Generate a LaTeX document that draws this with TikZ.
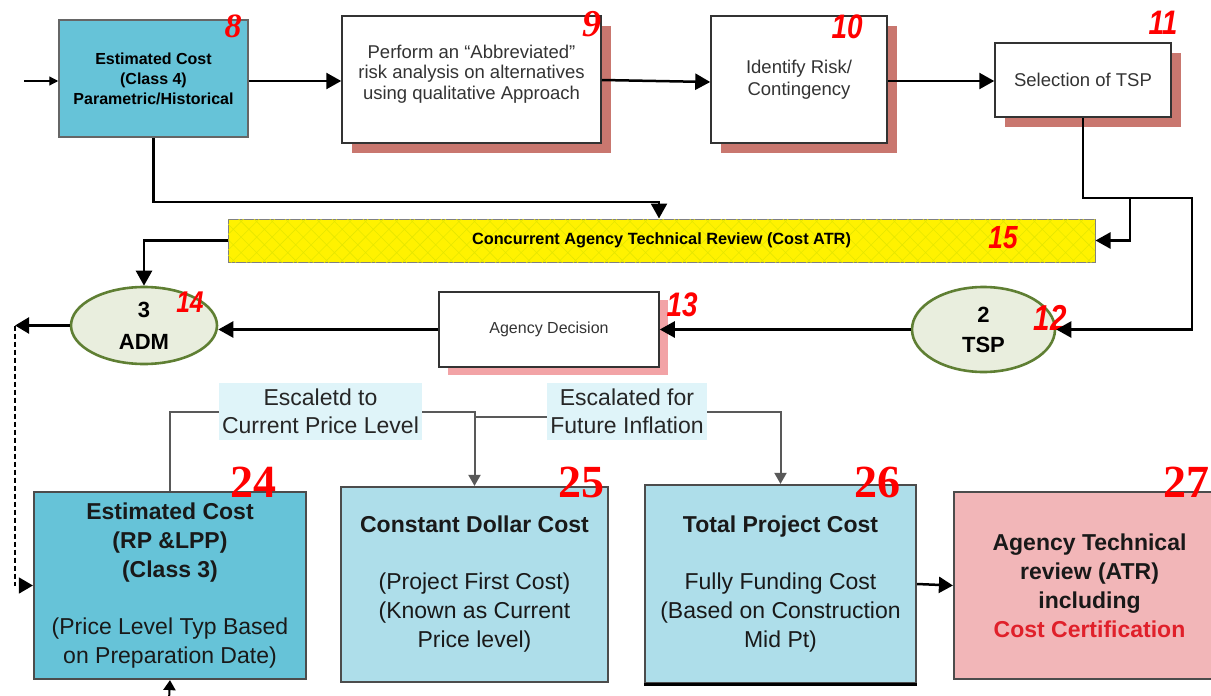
\documentclass[tikz,border=0pt]{standalone}
\usepackage{fontspec}
\setmainfont{Liberation Sans}
\newfontfamily\numserif{Liberation Serif}
\newfontfamily\numsans{Liberation Sans}[FakeStretch=0.82]
\usetikzlibrary{arrows.meta,shapes.geometric,shadows,patterns.meta,calc}
\definecolor{cyanA}{HTML}{66C3D8}
\definecolor{cyanB}{HTML}{AEDEEA}
\definecolor{pinkA}{HTML}{F2B6B8}
\definecolor{labbg}{HTML}{DFF4F9}
\definecolor{shred}{HTML}{C9776F}
\definecolor{shpink}{HTML}{F2A3A6}
\definecolor{ellfill}{HTML}{E9EEDE}
\definecolor{elldraw}{HTML}{5F7F33}
\definecolor{numred}{HTML}{FF0000}
\definecolor{certred}{HTML}{E0202A}
\definecolor{txtgray}{HTML}{333333}
\definecolor{bargold}{HTML}{E6E600}
\begin{document}
\begin{tikzpicture}[x=1pt,y=-1pt,
  tbox/.style={draw=black!80, line width=1.5pt, fill=white, align=center, inner sep=2pt,
    text=txtgray, font=\fontsize{18.5}{20.5}\selectfont},
  sbox/.style={tbox, drop shadow={shadow xshift=10pt, shadow yshift=-10pt, fill=shred, opacity=1}},
  bbox/.style={draw=black!70, line width=2.2pt, align=center, inner sep=2pt,
    text=black!90, font=\fontsize{23}{29}\selectfont},
  ell/.style={ellipse, draw=elldraw, line width=2.6pt, fill=ellfill, inner sep=0pt, align=center,
    font=\bfseries\fontsize{22}{32}\selectfont},
  lab/.style={fill=labbg, align=center, inner sep=1pt, text=black!85, font=\fontsize{23}{28}\selectfont},
  numA/.style={text=numred, font=\numserif\bfseries\itshape\fontsize{34}{34}\selectfont, inner sep=0pt},
  numB/.style={text=numred, font=\numsans\bfseries\itshape\fontsize{34}{34}\selectfont, inner sep=0pt},
  numC/.style={text=numred, font=\numserif\bfseries\fontsize{46}{46}\selectfont, inner sep=0pt},
  conn/.style={draw=black, line width=2.5pt, -{Triangle[length=15pt,width=16pt]}},
  conn2/.style={draw=black!65, line width=2pt, -{Triangle[length=11pt,width=12pt]}},
  plain2/.style={draw=black!65, line width=2pt},
  bigtip/.style={-{Triangle[length=14pt,width=16pt]}}
]
\useasboundingbox (0,0) rectangle (1211,696);

% top row
\node[tbox, fill=cyanA, draw=black!60, text=black, minimum width=189pt, minimum height=117pt,
  font=\bfseries\fontsize{16}{20}\selectfont] (b8) at (153.5,78.5)
  {Estimated Cost\\(Class 4)\\Parametric/Historical};
\node[sbox, minimum width=259pt, minimum height=127pt] (b9) at (471.5,79.5)
  {Perform an “Abbreviated”\\risk analysis on alternatives\\using qualitative Approach\\[-6pt]\mbox{}};
\node[sbox, minimum width=176pt, minimum height=127pt, font=\fontsize{18.5}{22}\selectfont] (b10) at (799,79.5)
  {Identify Risk/\\Contingency};
\node[sbox, minimum width=176pt, minimum height=74pt] (b11) at (1083,80) {Selection of TSP};

% review bar
\node[draw=black!50, line width=1pt, fill=yellow,
  postaction={pattern={Hatch[angle=45,distance=11pt,line width=0.6pt]}, pattern color=bargold},
  minimum width=867pt, minimum height=43pt, inner sep=0pt,
  font=\bfseries\fontsize{16.3}{18}\selectfont] (bar) at (661.5,240.5)
  {Concurrent Agency Technical Review (Cost ATR)};

% middle row
\node[ell, minimum width=146pt, minimum height=77pt] (adm) at (144,325.5) {3\\ADM};
\node[tbox, minimum width=220pt, minimum height=75pt, font=\fontsize{16}{18}\selectfont,
  drop shadow={shadow xshift=9pt, shadow yshift=-8pt, fill=shpink, opacity=1}] (dec) at (549,329.5)
  {Agency Decision};
\node[ell, minimum width=143pt, minimum height=85pt, font=\bfseries\fontsize{22}{30}\selectfont] (tsp) at (983.5,329.5) {2\\TSP};

% bottom row
\node[bbox, fill=cyanA, minimum width=272pt, minimum height=187pt] (b24) at (170,585.5)
  {\textbf{Estimated Cost}\\\textbf{(RP \&LPP)}\\\textbf{(Class 3)}\\[28pt](Price Level Typ Based\\on Preparation Date)};
\node[bbox, fill=cyanB, minimum width=267pt, minimum height=195pt] (b25) at (474.5,584.5)
  {\textbf{Constant Dollar Cost}\\[28pt](Project First Cost)\\(Known as Current\\Price level)};
\node[bbox, fill=cyanB, minimum width=271pt, minimum height=198pt] (b26) at (780.5,584)
  {\textbf{Total Project Cost}\\[28pt]Fully Funding Cost\\(Based on Construction\\Mid Pt)};
\node[bbox, fill=pinkA, minimum width=271pt, minimum height=187pt, font=\bfseries\fontsize{23}{29}\selectfont] (b27) at (1089.5,585.5)
  {Agency Technical\\review (ATR)\\including\\\textcolor{certred}{Cost Certification}};
\draw[black, line width=3pt] (b26.south west) -- (b26.south east);

% escalation labels
\node[lab, minimum width=203pt, minimum height=57pt] (lab1) at (320.5,411.5) {Escaletd to\\Current Price Level};
\node[lab, minimum width=160pt, minimum height=57pt] (lab2) at (627,411.5) {Escalated for\\Future Inflation};

% numbers
\node[numA] (n8) at (233,26) {8};
\node[numA, font=\numserif\bfseries\itshape\fontsize{38}{38}\selectfont] (n9) at (592,24) {9};
\node[numB] (n10) at (847,27) {10};
\node[numB] (n11) at (1163,23) {11};
\node[numB, font=\numsans\bfseries\itshape\fontsize{32}{32}\selectfont] (n15) at (1003,238) {15};
\node[numB, font=\numsans\bfseries\itshape\fontsize{30}{30}\selectfont] (n14) at (190,302) {14};
\node[numB] (n13) at (682,305) {13};
\node[numB, font=\numsans\bfseries\itshape\fontsize{36}{36}\selectfont] (n12) at (1050,318) {12};
\node[numC] (n24) at (253,482) {24};
\node[numC] (n25) at (581,482) {25};
\node[numC] (n26) at (877,482) {26};
\node[numC] (n27) at (1186,482) {27};

% coordinates
\coordinate (in0) at (24,81);
\coordinate (c1) at (659,202);
\coordinate (r1) at (1192,198);
\coordinate (r2) at (1130,198);
\coordinate (d1) at (15,325.5);
\coordinate (low) at (169,700);
\coordinate (j1) at (474.5,417);

% top connectors
\draw[draw=black, line width=1.2pt, -{Triangle[length=9pt,width=9pt]}] (in0) -- (b8.west |- in0);
\draw[conn] (b8.east |- 0,81) -- (b9.west |- 0,81);
\draw[conn] (b9.east |- 0,80) -- (b10.west |- 0,82);
\draw[conn] (b10.east |- 0,81) -- (b11.west |- 0,81);
\draw[conn] (b8.south) |- (c1) -- (c1 |- bar.north);
\draw[conn] (b11.south) |- (r1) |- (tsp.east);
\draw[conn] (r2) |- (bar.east);
\draw[conn] (bar.west) -| (adm.north);
\draw[conn] (tsp.west) -- (dec.east);
\draw[conn] (dec.west) -- (adm.east |- dec.west);
\draw[draw=black, line width=2.5pt, bigtip] (adm.west) -- (d1);
\draw[draw=black, line width=1.5pt, dash pattern=on 5pt off 3pt, bigtip] (d1) |- (b24.west);
\draw[draw=black, line width=2pt, -{Triangle[length=10pt,width=12pt]}] (low) -- (b24.south);

% bottom connectors
\draw[plain2] (b24.north) |- (lab1.west);
\draw[conn2] (lab1.east) -| (b25.north);
\draw[plain2] (j1) -- (j1 -| lab2.west);
\draw[conn2] (lab2.east) -| (b26.north);
\draw[draw=black, line width=2.5pt, bigtip] (b26.east) -- (b27.west);
\end{tikzpicture}
\end{document}
